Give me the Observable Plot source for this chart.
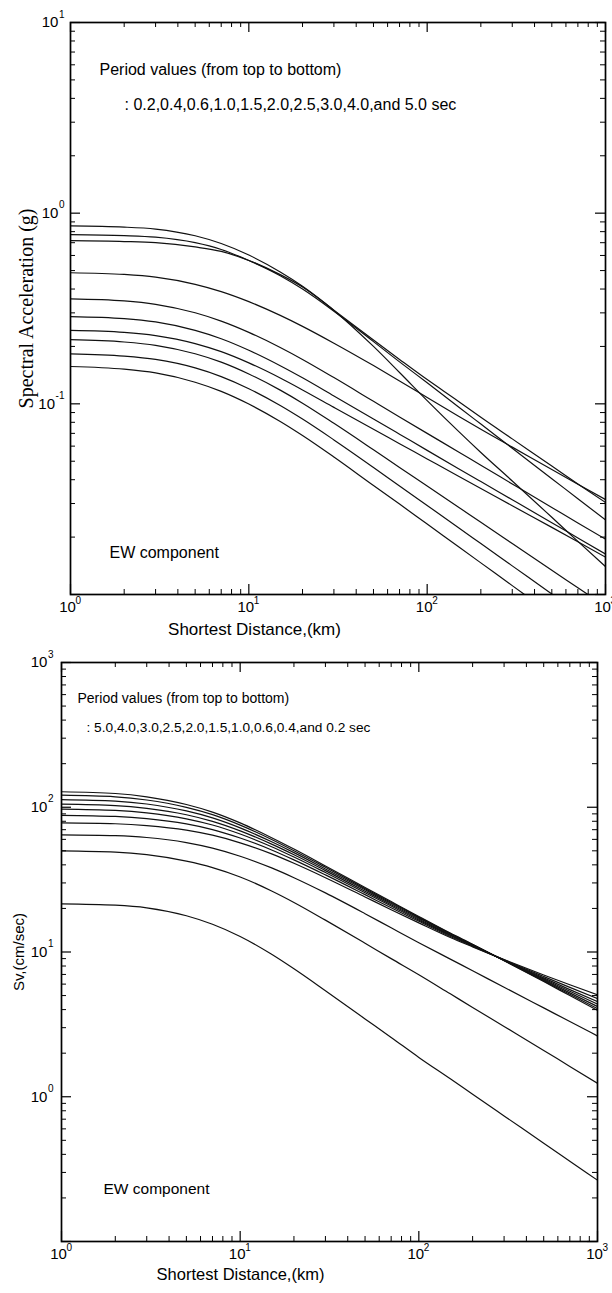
<!DOCTYPE html>
<html><head><meta charset="utf-8">
<script src="https://cdn.jsdelivr.net/npm/d3@7"></script>
<script src="https://cdn.jsdelivr.net/npm/@observablehq/plot@0.6"></script>
<style>body{margin:0;background:#fff;width:612px;} svg{display:block}</style>
</head><body><div id="chart"></div><script>
// ---------- data ----------
const distKm = [1,2,3,5,7,10,15,20,30,50,70,100,150,200,300,500,700,1000];

// Top panel: spectral acceleration (g)
const saPeriods = ["0.2","0.4","0.6","1.0","1.5","2.0","2.5","3.0","4.0","5.0"];
const sa_T0_2 = [0.857,0.845,0.825,0.761,0.693,0.603,0.492,0.414,0.309,0.200,0.146,0.104,0.0717,0.0556,0.0394,0.0254,0.019,0.014];
const sa_T0_4 = [0.771,0.762,0.748,0.70,0.645,0.565,0.47,0.40,0.306,0.212,0.166,0.129,0.0963,0.0783,0.0585,0.0405,0.0318,0.0246];
const sa_T0_6 = [0.717,0.71,0.70,0.665,0.63,0.565,0.476,0.41,0.31,0.216,0.171,0.134,0.103,0.085,0.0655,0.0472,0.038,0.0304];
const sa_T1_0 = [0.487,0.477,0.4616,0.4233,0.3877,0.3435,0.291,0.2549,0.208,0.1587,0.1319,0.108,0.0861,0.0735,0.0593,0.0452,0.0379,0.0315];
const sa_T1_5 = [0.355,0.3465,0.3327,0.3004,0.2716,0.2371,0.1975,0.171,0.1373,0.1031,0.0854,0.070,0.0559,0.0476,0.038,0.0286,0.0237,0.0195];
const sa_T2_0 = [0.287,0.2801,0.2689,0.2428,0.2195,0.191,0.1585,0.137,0.110,0.0833,0.0693,0.057,0.0457,0.0391,0.0314,0.0238,0.0198,0.0163];
const sa_T2_5 = [0.243,0.2372,0.2281,0.2071,0.1878,0.164,0.1366,0.1183,0.0958,0.0735,0.0618,0.0514,0.0417,0.036,0.0292,0.0225,0.0189,0.0157];
const sa_T3_0 = [0.217,0.211,0.2026,0.183,0.1654,0.1434,0.118,0.1008,0.079,0.0574,0.0464,0.0371,0.0287,0.0239,0.0185,0.0134,0.01085,0.00867];
const sa_T4_0 = [0.183,0.178,0.1709,0.1543,0.139,0.1201,0.098,0.0832,0.0647,0.0464,0.0371,0.0293,0.0224,0.0185,0.01413,0.01006,0.00805,0.00635];
const sa_T5_0 = [0.157,0.152,0.1452,0.1298,0.1162,0.0997,0.0808,0.0682,0.0526,0.0373,0.0298,0.0234,0.0178,0.01465,0.01113,0.00788,0.00628,0.00494];
const saSeries = [sa_T0_2,sa_T0_4,sa_T0_6,sa_T1_0,sa_T1_5,sa_T2_0,sa_T2_5,sa_T3_0,sa_T4_0,sa_T5_0];

// Bottom panel: spectral velocity Sv (cm/sec)
const svPeriods = ["5.0","4.0","3.0","2.5","2.0","1.5","1.0","0.6","0.4","0.2"];
const sv_T5_0 = [128,124.5,118.1,104.5,92.6,78.0,61.6,51.4,39.3,27.9,22.3,17.6,13.5,11.3,8.71,6.25,5.0,3.95];
const sv_T4_0 = [121.1,118.0,112.2,99.8,88.9,75.3,59.9,50.1,38.5,27.4,22.0,17.4,13.4,11.25,8.73,6.32,5.10,4.06];
const sv_T3_0 = [113.0,110.3,105.3,94.3,84.4,72.0,57.7,48.6,37.5,26.9,21.6,17.2,13.3,11.2,8.75,6.42,5.22,4.20];
const sv_T2_5 = [105.0,102.7,98.3,88.8,79.9,68.7,55.6,47.0,36.5,26.3,21.2,16.9,13.1,11.1,8.77,6.52,5.36,4.36];
const sv_T2_0 = [97.1,95.1,91.5,83.2,75.4,65.3,53.4,45.3,35.4,25.7,20.8,16.6,13.0,11.05,8.80,6.63,5.50,4.54];
const sv_T1_5 = [88.0,86.4,83.5,76.7,70.1,61.3,50.7,43.3,34.1,24.9,20.2,16.3,12.8,10.96,8.82,6.77,5.70,4.77];
const sv_T1_0 = [78,76.9,74.7,69.5,64.1,56.8,47.6,41.0,32.6,24.0,19.6,15.9,12.6,10.85,8.86,6.94,5.94,5.06];
const sv_T0_6 = [64.5,63.6,61.8,57.0,52.2,45.9,38.1,32.6,25.6,18.4,14.7,11.6,8.93,7.42,5.71,4.11,3.31,2.63];
const sv_T0_4 = [50,49.0,47.0,42.4,38.3,33.0,26.4,22.0,16.6,11.5,9.0,6.97,5.14,4.14,3.06,2.09,1.62,1.24];
const sv_T0_2 = [21.5,21.05,20.2,17.8,15.55,12.8,9.64,7.65,5.4,3.45,2.57,1.87,1.33,1.04,0.737,0.478,0.359,0.265];
const svSeries = [sv_T5_0,sv_T4_0,sv_T3_0,sv_T2_5,sv_T2_0,sv_T1_5,sv_T1_0,sv_T0_6,sv_T0_4,sv_T0_2];

// axes
const xMajor = [1,10,100,1000];
const xMinor = [2,3,4,5,6,7,8,9,20,30,40,50,60,70,80,90,200,300,400,500,600,700,800,900];
const saMajor = [0.01,0.1,1,10];
const saMinor = [0.02,0.03,0.04,0.05,0.06,0.07,0.08,0.09,0.2,0.3,0.4,0.5,0.6,0.7,0.8,0.9,2,3,4,5,6,7,8,9];
const svMajor = [0.1,1,10,100,1000];
const svMinor = [0.2,0.3,0.4,0.5,0.6,0.7,0.8,0.9,2,3,4,5,6,7,8,9,20,30,40,50,60,70,80,90,200,300,400,500,600,700,800,900];

const saTitle = "Period values (from top to bottom)";
const saList = ": 0.2,0.4,0.6,1.0,1.5,2.0,2.5,3.0,4.0,and 5.0 sec";
const svTitle = "Period values (from top to bottom)";
const svList = ": 5.0,4.0,3.0,2.5,2.0,1.5,1.0,0.6,0.4,and 0.2 sec";
const compLabel = "EW component";
const xTitle = "Shortest Distance,(km)";

// ---------- drawing ----------
const SANS = "Liberation Sans, Arial, Helvetica, sans-serif";
function toRows(periods, series) {
  return periods.flatMap((p, i) => series[i].map((v, j) => ({x: distKm[j], y: v, period: p})));
}
function expText(v) { const e = Math.round(Math.log10(v)); return e < 0 ? "-" + (-e) : String(e); }

function panel(c) {
  const innerH = c.height - c.mt - c.mb, innerW = 612 - c.ml - c.mr;
  const yLabelMarks = c.yMajor.filter(v => v !== c.yDomain[0]).flatMap(v => {
    const e = expText(v);
    const supW = e.length * 5.6 - (e.startsWith("-") ? 2.2 : 0);
    return [
      Plot.text([v], {y: d => d, frameAnchor: "left", dx: c.supEnd, dy: -8, text: () => e, fontSize: 10, textAnchor: "end", fontFamily: SANS}),
      Plot.text([v], {y: d => d, frameAnchor: "left", dx: c.supEnd - supW - 0.5, text: () => "10", fontSize: 15, textAnchor: "end", fontFamily: SANS})
    ];
  });
  return Plot.plot({
    width: 612, height: c.height,
    marginTop: c.mt, marginBottom: c.mb, marginLeft: c.ml, marginRight: c.mr,
    x: {type: "log", domain: [1, 1000], axis: null},
    y: {type: "log", domain: c.yDomain, axis: null},
    style: {fontFamily: SANS, background: "white", overflow: "visible", color: "black"},
    marks: [
      Plot.line(c.rows, {x: "x", y: "y", z: "period", stroke: "#111", strokeWidth: 1.2, curve: "monotone-x", clip: true}),
      Plot.tickX(xMinor, {x: d => d, insetTop: innerH - 5, strokeWidth: 1}),
      Plot.tickX(xMinor, {x: d => d, insetBottom: innerH - 5, strokeWidth: 1}),
      Plot.tickX(xMajor, {x: d => d, insetTop: innerH - 10, strokeWidth: 1.2}),
      Plot.tickX(xMajor, {x: d => d, insetBottom: innerH - 10, strokeWidth: 1.2}),
      Plot.tickY(c.yMinor, {y: d => d, insetRight: innerW - 5, strokeWidth: 1}),
      Plot.tickY(c.yMinor, {y: d => d, insetLeft: innerW - 5, strokeWidth: 1}),
      Plot.tickY(c.yMajor, {y: d => d, insetRight: innerW - 10, strokeWidth: 1.2}),
      Plot.tickY(c.yMajor, {y: d => d, insetLeft: innerW - 10, strokeWidth: 1.2}),
      Plot.frame({stroke: "#000", strokeWidth: 1.7}),
      Plot.text(xMajor, {x: d => d, frameAnchor: "bottom", dy: 17, dx: -3, text: () => "10", fontSize: 15, textAnchor: "middle", fontFamily: SANS}),
      Plot.text(xMajor, {x: d => d, frameAnchor: "bottom", dy: 9, dx: 5, text: expText, fontSize: 10, textAnchor: "start", fontFamily: SANS}),
      ...yLabelMarks,
      Plot.text([c.yLabel], {frameAnchor: "left", dx: c.yLabelDx, rotate: -90, textAnchor: "middle", fontSize: c.yLabelSize, fontFamily: c.yLabelFont}),
      Plot.text([xTitle], {frameAnchor: "bottom-left", dx: c.xTitleDx, dy: c.xTitleDy, textAnchor: "middle", fontSize: c.xTitleSize, fontFamily: SANS}),
      Plot.text([c.title], {frameAnchor: "top-left", dx: c.noteDx, dy: c.noteDy, textAnchor: "start", fontSize: c.noteSize, fontFamily: SANS}),
      Plot.text([c.list], {frameAnchor: "top-left", dx: c.listDx, dy: c.listDy, textAnchor: "start", fontSize: c.listSize, fontFamily: SANS}),
      Plot.text([compLabel], {frameAnchor: "bottom-left", dx: c.compDx, dy: c.compDy, textAnchor: "start", fontSize: c.compSize, fontFamily: SANS})
    ]
  });
}

const topChart = panel({
  rows: toRows(saPeriods, saSeries), height: 650, mt: 22, mb: 56, ml: 70, mr: 7,
  yDomain: [0.01, 10], yMajor: saMajor, yMinor: saMinor, supEnd: -6,
  yLabel: "Spectral Acceleration (g)", yLabelDx: -44, yLabelSize: 20, yLabelFont: "Liberation Serif, Times New Roman, serif",
  xTitleDx: 184, xTitleDy: 40, xTitleSize: 17,
  title: saTitle, list: saList, noteSize: 16, listSize: 16, noteDx: 29, noteDy: 41, listDx: 54, listDy: 76,
  compDx: 39, compDy: -37, compSize: 16
});
const bottomChart = panel({
  rows: toRows(svPeriods, svSeries), height: 643, mt: 12, mb: 52, ml: 61, mr: 15,
  yDomain: [0.1, 1000], yMajor: svMajor, yMinor: svMinor, supEnd: -8,
  yLabel: "Sv,(cm/sec)", yLabelDx: -42, yLabelSize: 15, yLabelFont: SANS,
  xTitleDx: 179, xTitleDy: 38, xTitleSize: 16.5,
  title: svTitle, list: svList, noteSize: 14, listSize: 13.7, noteDx: 16, noteDy: 31, listDx: 25, listDy: 60,
  compDx: 42, compDy: -48, compSize: 15.5
});
const root = document.getElementById("chart");
root.appendChild(topChart);
root.appendChild(bottomChart);
</script></body></html>
